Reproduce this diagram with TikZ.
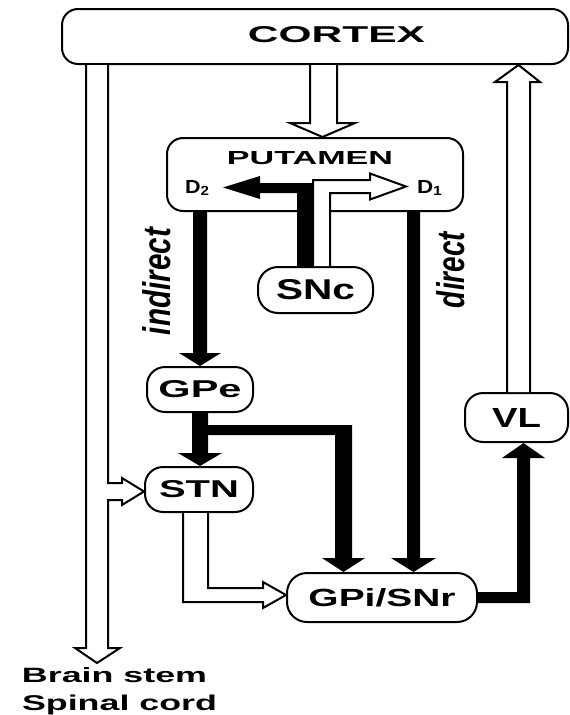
\documentclass[tikz,border=0pt]{standalone}
\usepackage{fontspec}
\setmainfont{Liberation Sans}
\usetikzlibrary{calc}
\newcommand{\fitlbl}[3]{\resizebox{#1pt}{#2pt}{\bfseries #3}}
\tikzset{
  box/.style={draw, line width=2pt, fill=white, rounded corners=#1, inner sep=0pt},
  txt/.style={inner sep=0pt, outer sep=0pt},
  hol/.style={draw, line width=2pt, fill=white, line join=miter},
  blk/.style={fill=black}
}
\begin{document}
\begin{tikzpicture}[x=1pt,y=-1pt]
\useasboundingbox (0,0) rectangle (570,715);
% boxes
\node[box=16pt, minimum width=506pt, minimum height=55pt] (cortex) at (315,36.5) {};
\node[box=16pt, minimum width=296pt, minimum height=73pt] (put) at (315,174.5) {};
\node[box=20pt, minimum width=115pt, minimum height=46pt] (snc) at (315.5,290) {\fitlbl{79}{20}{SNc}};
\node[box=18pt, minimum width=106pt, minimum height=45pt] (gpe) at (200,389.5) {\fitlbl{83}{17}{GPe}};
\node[box=18pt, minimum width=108pt, minimum height=45pt] (stn) at (199,489.5) {\fitlbl{80}{17}{STN}};
\node[box=20pt, minimum width=190pt, minimum height=49pt] (gpi) at (382,597.5) {\fitlbl{147}{18}{GPi/SNr}};
\node[box=18pt, minimum width=103pt, minimum height=49pt] (vl) at (516.5,417.5) {\fitlbl{49}{19}{VL}};
% labels
\node[txt] (cortexlbl) at (336.5,35) {\fitlbl{177}{16}{CORTEX}};
\node[txt] (putlbl) at (310,158.5) {\fitlbl{166}{13}{PUTAMEN}};
\node[txt, anchor=base west] (d2) at (185,193) {\fitlbl{25}{13}{D\textsubscript{2}}};
\node[txt, anchor=base west] (d1) at (417,193) {\fitlbl{26}{13}{D\textsubscript{1}}};
\node[txt, rotate=90] (ind) at (156.5,281.5) {\resizebox{107pt}{28pt}{\bfseries\itshape indirect}};
\node[txt, rotate=90] (dir) at (451,270) {\resizebox{76pt}{28pt}{\bfseries\itshape direct}};
\node[txt, anchor=base west] (bs) at (22,682) {\fitlbl{185}{15}{Brain stem}};
\node[txt, anchor=base west] (sc) at (22,710) {\fitlbl{195}{15.5}{Spinal cord}};
% hollow arrows
\draw[hol] (86,0 |- cortex.south) -- (86,648) -- (75,648) -- (97,663) -- (120,648) -- (108,648)
  -- (108,500) -- (122,500) -- (122,505) -- (0,491.5 -| stn.west) -- (122,478) -- (122,483) -- (108,483)
  -- (108,0 |- cortex.south);
\draw[hol] (310,0 |- cortex.south) -- (310,123) -- (290,123) -- (322.5,0 |- put.north) -- (355,123) -- (337,123) -- (337,0 |- cortex.south);
\draw[hol] (507,0 |- vl.north) -- (507,82) -- (495,82) -- (518.5,0 |- cortex.south) -- (540,82) -- (530,82) -- (530,0 |- vl.north);
\draw[hol] (183,0 |- stn.south) -- (183,602) -- (263,602) -- (263,608) -- (0,595 -| gpi.west) -- (263,582) -- (263,588) -- (208,588) -- (208,0 |- stn.south);
\draw[hol] (313,0 |- snc.north) -- (313,180) -- (370,180) -- (370,173.5) -- (406,186.5) -- (370,199.5) -- (370,193) -- (330,193) -- (330,0 |- snc.north);
% black arrows
\fill[blk] (297,0 |- snc.north) -- (297,193) -- (260,193) -- (260,199) -- (223,187.5) -- (260,176) -- (260,183) -- (312,183) -- (312,0 |- snc.north) -- cycle;
\fill[blk] (193,0 |- put.south) -- (193,353) -- (179,353) -- (gpe.north) -- (221,353) -- (207,353) -- (207,0 |- put.south) -- cycle;
\fill[blk] (192,0 |- gpe.south) -- (192,453) -- (178,453) -- (200,0 |- stn.north) -- (222,453) -- (208,453) -- (208,0 |- gpe.south) -- cycle;
\fill[blk] (gpe.south |- 0,425) -- (352,425) -- (352,558) -- (365,558) -- (343.5,0 |- gpi.north) -- (322,558) -- (335,558) -- (335,435) -- (gpe.south |- 0,435) -- cycle;
\fill[blk] (407,0 |- put.south) -- (407,558) -- (391,558) -- (413.5,0 |- gpi.north) -- (436,558) -- (420,558) -- (420,0 |- put.south) -- cycle;
\fill[blk] (gpi.east |- 0,592) -- (517,592) -- (517,458) -- (502,458) -- (523.5,0 |- vl.south) -- (545,458) -- (530,458) -- (530,603) -- (gpi.east |- 0,603) -- cycle;
\end{tikzpicture}
\end{document}
